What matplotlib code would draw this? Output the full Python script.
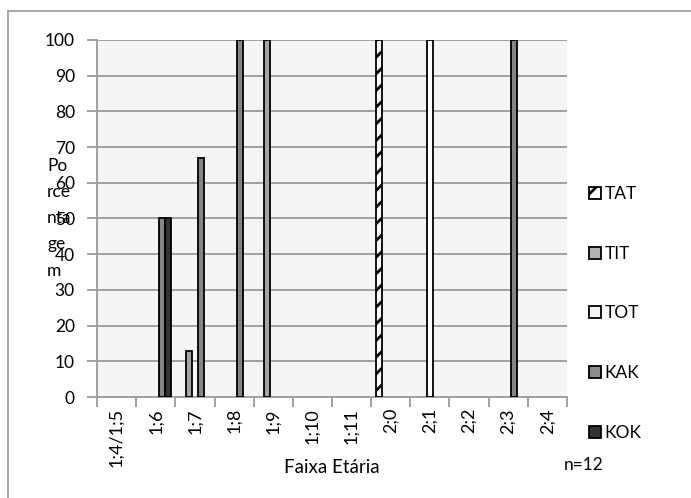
"""Percentage per age band for TAT/TIT/TOT/KAK/KOK (Excel-style clustered columns)"""

import numpy as np
import matplotlib
matplotlib.use('Agg')
import matplotlib.pyplot as plt
from matplotlib.patches import Patch
from matplotlib.lines import Line2D

plt.rcParams['font.family'] = ['Lato', 'DejaVu Sans']
plt.rcParams['hatch.linewidth'] = 2.0

#data
categories = ['1;4/1;5', '1;6', '1;7', '1;8', '1;9', '1;10', '1;11',
              '2;0', '2;1', '2;2', '2;3', '2;4']
series = ['TAT', 'TIT', 'TOT', 'KAK', 'KOK']
tat = [0, 0, 0, 0, 0, 0, 0, 100, 0, 0, 0, 0]
tit = [0, 0, 13, 0, 100, 0, 0, 0, 0, 0, 0, 0]
tot = [0, 0, 0, 0, 0, 0, 0, 0, 100, 0, 0, 0]
kak = [0, 50, 67, 100, 0, 0, 0, 0, 0, 0, 100, 0]
kok = [0, 50, 0, 0, 0, 0, 0, 0, 0, 0, 0, 0]
values = [tat, tit, tot, kak, kok]

#styles per series
fills = ['white', '#a6a6a6', 'white', '#858585', '#333333']
hatches = ['//', None, None, None, None]
leg_fills = ['white', '#b3b3b3', '#f2f2f2', '#8c8c8c', '#333333']
fs = 12.5

fig = plt.figure(figsize=(6.91, 4.98), dpi=100)
ax = fig.add_axes([97/691, 1-397/498, (567-97)/691, (397-40)/498])
ax.set_facecolor('#f5f5f5')

x = np.arange(len(categories))
w = 1/6.5
for i, vals in enumerate(values):
    vals = np.array(vals, dtype=float)
    keep = vals > 0
    ax.bar(x[keep] + (i-2)*w, vals[keep], width=w, color=fills[i],
           edgecolor='black', linewidth=1.3, hatch=hatches[i], zorder=3)

#axes
ax.set_xlim(-0.5, len(categories)-0.5)
ax.set_ylim(0, 100)
ax.set_yticks(range(0, 101, 10))
ax.yaxis.grid(True, color='#a0a0a0', linewidth=1.4, zorder=0)
ax.set_axisbelow(True)
for s in ['top', 'right']:
    ax.spines[s].set_visible(False)
ax.spines['left'].set_color('#a0a0a0')
ax.spines['left'].set_linewidth(1.4)
ax.spines['bottom'].set_color('#a0a0a0')
ax.spines['bottom'].set_linewidth(1.4)
ax.tick_params(axis='y', colors='#a0a0a0', labelcolor='black', labelsize=fs,
               length=7, width=1.4, pad=9)

#category ticks between groups, labels centered
ax.set_xticks(np.arange(-0.5, len(categories)), minor=False)
ax.set_xticklabels([])
ax.set_xticks(x, minor=True)
ax.set_xticklabels(categories, minor=True, rotation=90, fontsize=13)
ax.tick_params(axis='x', which='major', colors='#a0a0a0', length=7, width=1.4)
ax.tick_params(axis='x', which='minor', length=0, pad=8)

#broken y label like the original
fig.text(47/691, 1-158/498, 'Po\nrce\nnta\nge\nm', ha='left', va='top',
         fontsize=fs, linespacing=1.78)

fig.text(332/691, 1-467/498, 'Faixa Etária', ha='center', va='center', fontsize=13.5)
fig.text(584/691, 1-465/498, 'n=12', ha='center', va='center', fontsize=fs)

#legend
handles = [Patch(facecolor=leg_fills[i], edgecolor='black', linewidth=1.3,
                 hatch=hatches[i]) for i in range(len(series))]
fig.legend(handles, series, loc='upper left', bbox_to_anchor=(582/691, 1-179/498),
           frameon=False, fontsize=fs, handlelength=0.7, handleheight=0.7,
           handletextpad=0.2, labelspacing=2.52, borderaxespad=0)

#chart border (cropped at right and bottom)
fig.add_artist(Line2D([8/691, 1], [1-11/498, 1-11/498], color='#a0a0a0', linewidth=1.3))
fig.add_artist(Line2D([8/691, 8/691], [1-11/498, 0], color='#a0a0a0', linewidth=1.3))

fig.savefig('out.png', dpi=100)
